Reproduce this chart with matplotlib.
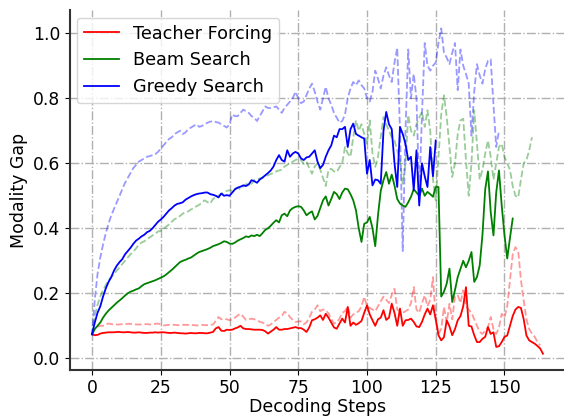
import numpy as np
import matplotlib
matplotlib.use("Agg")
import matplotlib.pyplot as plt

# ---------------- data (values per decoding step, starting at step 0) ----------------
tf_solid = [0.074, 0.071, 0.072, 0.076, 0.078, 0.079, 0.080, 0.080, 0.080, 0.081,
            0.081, 0.080, 0.080, 0.081, 0.080, 0.079, 0.079, 0.080, 0.079, 0.078,
            0.078, 0.079, 0.079, 0.080, 0.079, 0.080, 0.080, 0.079, 0.078, 0.078,
            0.079, 0.078, 0.077, 0.077, 0.076, 0.077, 0.078, 0.077, 0.077, 0.078,
            0.078, 0.077, 0.077, 0.079, 0.081, 0.092, 0.096, 0.085, 0.084, 0.088,
            0.087, 0.088, 0.092, 0.095, 0.100, 0.092, 0.090, 0.090, 0.089, 0.088,
            0.088, 0.088, 0.087, 0.083, 0.076, 0.082, 0.088, 0.096, 0.088, 0.088,
            0.090, 0.090, 0.092, 0.094, 0.096, 0.093, 0.093, 0.088, 0.081, 0.095,
            0.117, 0.120, 0.125, 0.132, 0.118, 0.137, 0.125, 0.110, 0.095, 0.091,
            0.107, 0.122, 0.110, 0.158, 0.100, 0.110, 0.103, 0.108, 0.115, 0.140,
            0.163, 0.135, 0.117, 0.100, 0.120, 0.125, 0.148, 0.118, 0.125, 0.168,
            0.140, 0.100, 0.153, 0.100, 0.117, 0.118, 0.122, 0.112, 0.098, 0.096,
            0.112, 0.135, 0.153, 0.135, 0.163, 0.120, 0.071, 0.055, 0.065, 0.117,
            0.098, 0.071, 0.090, 0.117, 0.130, 0.160, 0.219, 0.100, 0.098, 0.071,
            0.050, 0.050, 0.060, 0.066, 0.096, 0.075, 0.080, 0.035, 0.037, 0.050,
            0.066, 0.070, 0.100, 0.130, 0.150, 0.158, 0.155, 0.120, 0.070, 0.055,
            0.050, 0.045, 0.038, 0.030, 0.014]

tf_dashed = [0.074, 0.092, 0.097, 0.100, 0.100, 0.104, 0.107, 0.105, 0.104, 0.104,
             0.104, 0.105, 0.105, 0.106, 0.106, 0.105, 0.104, 0.104, 0.104, 0.105,
             0.105, 0.104, 0.104, 0.106, 0.107, 0.104, 0.101, 0.102, 0.103, 0.103,
             0.103, 0.102, 0.102, 0.103, 0.103, 0.103, 0.103, 0.102, 0.101, 0.102,
             0.103, 0.102, 0.102, 0.103, 0.104, 0.115, 0.127, 0.120, 0.122, 0.120,
             0.117, 0.120, 0.125, 0.132, 0.137, 0.128, 0.118, 0.120, 0.122, 0.120,
             0.118, 0.112, 0.110, 0.105, 0.100, 0.104, 0.112, 0.118, 0.125, 0.130,
             0.143, 0.138, 0.127, 0.118, 0.112, 0.113, 0.114, 0.105, 0.110, 0.125,
             0.143, 0.150, 0.163, 0.145, 0.150, 0.148, 0.138, 0.120, 0.107, 0.110,
             0.122, 0.140, 0.145, 0.160, 0.125, 0.135, 0.140, 0.145, 0.160, 0.189,
             0.160, 0.155, 0.150, 0.145, 0.160, 0.175, 0.190, 0.180, 0.170, 0.195,
             0.214, 0.150, 0.145, 0.140, 0.145, 0.150, 0.170, 0.219, 0.150, 0.140,
             0.170, 0.194, 0.160, 0.180, 0.250, 0.120, 0.076, 0.090, 0.158, 0.110,
             0.168, 0.120, 0.190, 0.195, 0.170, 0.209, 0.160, 0.150, 0.140, 0.120,
             0.100, 0.081, 0.075, 0.085, 0.096, 0.127, 0.090, 0.075, 0.095, 0.137,
             0.125, 0.160, 0.240, 0.320, 0.342, 0.330, 0.240, 0.178, 0.120, 0.090,
             0.076, 0.066, 0.050, 0.040]

bs_solid = [0.074, 0.090, 0.100, 0.110, 0.125, 0.137, 0.147, 0.155, 0.163, 0.171,
            0.178, 0.185, 0.193, 0.200, 0.205, 0.208, 0.212, 0.215, 0.222, 0.228,
            0.231, 0.234, 0.237, 0.240, 0.244, 0.248, 0.252, 0.258, 0.265, 0.272,
            0.280, 0.288, 0.296, 0.300, 0.303, 0.307, 0.310, 0.316, 0.322, 0.327,
            0.330, 0.333, 0.336, 0.340, 0.345, 0.348, 0.351, 0.355, 0.360, 0.358,
            0.353, 0.352, 0.356, 0.362, 0.366, 0.370, 0.375, 0.373, 0.378, 0.376,
            0.380, 0.376, 0.385, 0.395, 0.400, 0.408, 0.417, 0.425, 0.418, 0.440,
            0.445, 0.437, 0.455, 0.462, 0.466, 0.468, 0.466, 0.455, 0.440, 0.447,
            0.452, 0.427, 0.438, 0.462, 0.486, 0.498, 0.470, 0.490, 0.512, 0.505,
            0.490, 0.510, 0.522, 0.520, 0.505, 0.486, 0.455, 0.400, 0.358, 0.414,
            0.418, 0.435, 0.400, 0.345, 0.440, 0.515, 0.548, 0.573, 0.537, 0.565,
            0.532, 0.490, 0.476, 0.470, 0.466, 0.480, 0.497, 0.520, 0.510, 0.500,
            0.522, 0.500, 0.512, 0.505, 0.497, 0.527, 0.527, 0.190, 0.205, 0.230,
            0.276, 0.173, 0.210, 0.250, 0.275, 0.300, 0.280, 0.300, 0.327, 0.235,
            0.250, 0.286, 0.380, 0.520, 0.575, 0.450, 0.378, 0.510, 0.578, 0.470,
            0.380, 0.307, 0.370, 0.430]

bs_dashed = [0.074, 0.130, 0.165, 0.190, 0.210, 0.225, 0.240, 0.250, 0.260, 0.270,
             0.280, 0.290, 0.300, 0.310, 0.320, 0.328, 0.338, 0.350, 0.356, 0.360,
             0.366, 0.372, 0.378, 0.383, 0.390, 0.392, 0.400, 0.405, 0.412, 0.420,
             0.428, 0.432, 0.438, 0.445, 0.450, 0.452, 0.458, 0.462, 0.468, 0.472,
             0.480, 0.486, 0.480, 0.476, 0.490, 0.495, 0.500, 0.505, 0.510, 0.515,
             0.517, 0.515, 0.522, 0.525, 0.520, 0.530, 0.535, 0.540, 0.537, 0.548,
             0.550, 0.553, 0.555, 0.560, 0.563, 0.567, 0.570, 0.575, 0.578, 0.580,
             0.590, 0.595, 0.600, 0.605, 0.610, 0.614, 0.610, 0.598, 0.605, 0.585,
             0.568, 0.590, 0.600, 0.580, 0.555, 0.530, 0.580, 0.583, 0.575, 0.573,
             0.588, 0.600, 0.650, 0.630, 0.620, 0.680, 0.732, 0.700, 0.720, 0.690,
             0.660, 0.732, 0.630, 0.589, 0.620, 0.680, 0.742, 0.720, 0.700, 0.680,
             0.670, 0.640, 0.610, 0.537, 0.600, 0.748, 0.700, 0.685, 0.720, 0.740,
             0.758, 0.712, 0.763, 0.700, 0.550, 0.486, 0.620, 0.750, 0.809, 0.742,
             0.650, 0.558, 0.600, 0.690, 0.732, 0.737, 0.610, 0.500, 0.600, 0.763,
             0.660, 0.550, 0.580, 0.630, 0.670, 0.620, 0.550, 0.600, 0.650, 0.660,
             0.620, 0.600, 0.580, 0.530, 0.500, 0.495, 0.550, 0.600, 0.610, 0.640,
             0.680]

gs_solid = [0.074, 0.110, 0.140, 0.160, 0.190, 0.215, 0.235, 0.250, 0.270, 0.285,
            0.296, 0.305, 0.320, 0.330, 0.340, 0.352, 0.362, 0.368, 0.375, 0.380,
            0.388, 0.392, 0.400, 0.410, 0.420, 0.427, 0.435, 0.445, 0.455, 0.462,
            0.470, 0.475, 0.477, 0.480, 0.488, 0.493, 0.498, 0.502, 0.505, 0.507,
            0.508, 0.510, 0.510, 0.505, 0.503, 0.500, 0.495, 0.507, 0.500, 0.502,
            0.500, 0.510, 0.520, 0.525, 0.528, 0.532, 0.530, 0.535, 0.548, 0.545,
            0.540, 0.550, 0.556, 0.563, 0.570, 0.578, 0.590, 0.610, 0.625, 0.610,
            0.605, 0.640, 0.620, 0.630, 0.635, 0.630, 0.615, 0.610, 0.618, 0.620,
            0.630, 0.640, 0.605, 0.585, 0.595, 0.620, 0.640, 0.655, 0.685, 0.680,
            0.705, 0.705, 0.712, 0.650, 0.705, 0.722, 0.690, 0.685, 0.680, 0.676,
            0.568, 0.610, 0.532, 0.550, 0.548, 0.537, 0.700, 0.758, 0.720, 0.705,
            0.600, 0.527, 0.712, 0.690, 0.660, 0.610, 0.620, 0.517, 0.640, 0.470,
            0.600, 0.560, 0.527, 0.650, 0.560, 0.670]

gs_dashed = [0.070, 0.180, 0.260, 0.310, 0.350, 0.385, 0.415, 0.440, 0.460, 0.480,
             0.500, 0.520, 0.540, 0.555, 0.570, 0.585, 0.595, 0.605, 0.610, 0.615,
             0.620, 0.622, 0.625, 0.628, 0.635, 0.645, 0.655, 0.665, 0.675, 0.680,
             0.690, 0.695, 0.700, 0.690, 0.695, 0.705, 0.710, 0.715, 0.720, 0.712,
             0.715, 0.720, 0.725, 0.728, 0.730, 0.727, 0.725, 0.720, 0.715, 0.710,
             0.720, 0.750, 0.745, 0.745, 0.755, 0.765, 0.760, 0.755, 0.745, 0.740,
             0.730, 0.745, 0.760, 0.775, 0.770, 0.770, 0.772, 0.775, 0.765, 0.755,
             0.770, 0.780, 0.790, 0.800, 0.820, 0.800, 0.785, 0.790, 0.810, 0.830,
             0.845, 0.820, 0.790, 0.765, 0.800, 0.835, 0.800, 0.780, 0.755, 0.740,
             0.725, 0.730, 0.750, 0.800, 0.830, 0.850, 0.840, 0.855, 0.840, 0.830,
             0.800, 0.790, 0.820, 0.885, 0.860, 0.830, 0.870, 0.895, 0.870, 0.850,
             0.910, 0.955, 0.700, 0.330, 0.700, 0.950, 0.800, 0.875, 0.800, 0.500,
             0.750, 0.970, 0.900, 0.885, 0.900, 0.910, 0.970, 1.015, 0.940, 0.925,
             0.905, 0.940, 0.970, 0.825, 0.950, 0.900, 0.875, 0.845, 0.685, 0.820,
             0.905, 0.870, 0.845, 0.890, 0.915, 0.920, 0.780, 0.650, 0.700]

series = [
    ("Teacher Forcing", "red", tf_solid, tf_dashed),
    ("Beam Search", "green", bs_solid, bs_dashed),
    ("Greedy Search", "blue", gs_solid, gs_dashed),
]

# ---------------- figure ----------------
fig = plt.figure(figsize=(5.64, 4.19), dpi=100)
ax = fig.add_axes([69.5 / 564, 49 / 419, 496 / 564, 359.5 / 419])

for label, color, solid, dashed in series:
    ax.plot(np.arange(len(solid)), solid, color=color, lw=1.3, label=label, zorder=3)
    ax.plot(np.arange(len(dashed)), dashed, color=color, lw=1.3, ls="--",
            alpha=0.4, zorder=2)

ax.set_xlim(-8.2, 172.2)
ax.set_ylim(-0.036, 1.07)
ax.set_xticks([0, 25, 50, 75, 100, 125, 150])
ax.set_yticks([0.0, 0.2, 0.4, 0.6, 0.8, 1.0])
ax.set_yticklabels(["0.0", "0.2", "0.4", "0.6", "0.8", "1.0"])
ax.tick_params(labelsize=12.3, pad=3)

ax.grid(True, ls="-.", color="#b0b0b0", lw=1.0)
ax.set_axisbelow(True)
for s in ["top", "right"]:
    ax.spines[s].set_visible(False)
for s in ["left", "bottom"]:
    ax.spines[s].set_linewidth(1.5)
    ax.spines[s].set_color("#333333")

ax.set_xlabel("Decoding Steps", fontsize=12.5, labelpad=1)
ax.set_ylabel("Modality Gap", fontsize=12.5, labelpad=4)
ax.legend(loc="upper left", fontsize=12.7, frameon=True, borderaxespad=0.4)

fig.savefig("out.png", dpi=100)
